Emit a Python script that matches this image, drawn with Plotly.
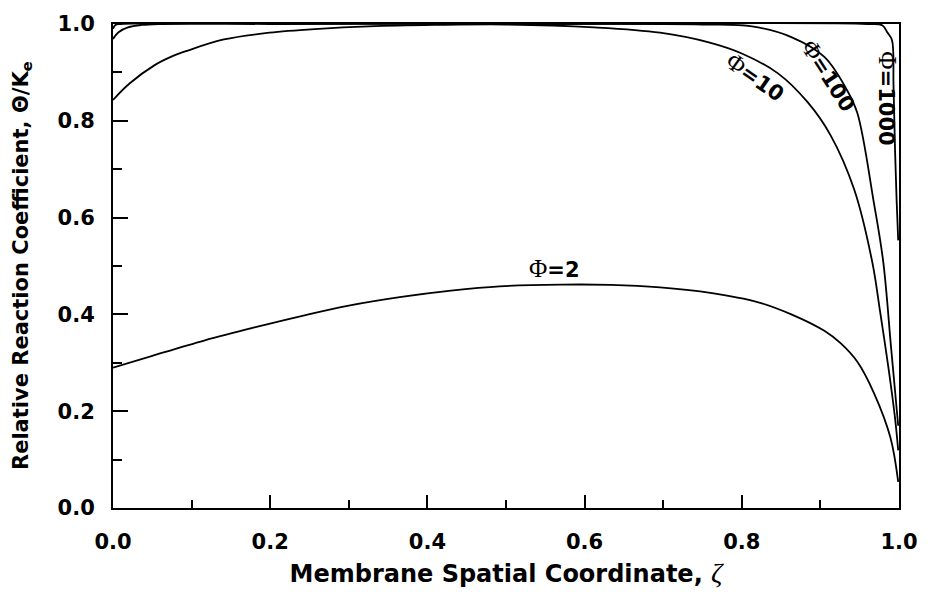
import plotly.graph_objects as go

# Relative reaction coefficient profiles across the membrane for several Thiele moduli
zeta_phi2 = [0.0, 0.050, 0.116, 0.180, 0.241, 0.300, 0.367, 0.430, 0.492, 0.570,
             0.633, 0.696, 0.758, 0.821, 0.863, 0.905, 0.926, 0.947, 0.968, 0.989,
             0.999]
theta_phi2 = [0.290, 0.3145, 0.346, 0.373, 0.397, 0.418, 0.436, 0.449, 0.458, 0.4615,
              0.461, 0.456, 0.445, 0.425, 0.400, 0.366, 0.340, 0.302, 0.238, 0.146,
              0.054]

zeta_phi10 = [0.0, 0.021, 0.053, 0.075, 0.095, 0.141, 0.199, 0.262, 0.325, 0.409,
              0.500, 0.612, 0.696, 0.758, 0.800, 0.846, 0.884, 0.913, 0.943, 0.966,
              0.976, 0.987, 0.995, 0.999]
theta_phi10 = [0.843, 0.877, 0.915, 0.933, 0.945, 0.968, 0.982, 0.990, 0.995, 0.998,
               0.999, 0.993, 0.982, 0.962, 0.939, 0.898, 0.838, 0.770, 0.658, 0.508,
               0.405, 0.285, 0.185, 0.119]

zeta_phi100 = [0.0, 0.007, 0.019, 0.036, 0.060, 0.200, 0.500, 0.750, 0.813, 0.863,
               0.905, 0.934, 0.947, 0.968, 0.980, 0.990, 0.999]
theta_phi100 = [0.969, 0.983, 0.993, 0.998, 1.000, 1.000, 1.000, 0.999, 0.995, 0.973,
                0.932, 0.863, 0.816, 0.631, 0.508, 0.330, 0.170]

zeta_phi1000 = [0.0, 0.003, 0.010, 0.500, 0.960, 0.979, 0.985, 0.991, 0.993, 0.995,
                0.997, 0.999]
theta_phi1000 = [0.990, 0.998, 1.000, 1.000, 1.000, 0.997, 0.983, 0.967, 0.874, 0.737,
                 0.635, 0.553]

curve_labels = ["Φ=2", "Φ=10", "Φ=100", "Φ=1000"]
label_x = [0.5615, 0.817, 0.911, 0.985]
label_y = [0.494, 0.891, 0.893, 0.846]
label_angle = [0, 35, 57, 90]

x_ticks = [0.0, 0.2, 0.4, 0.6, 0.8, 1.0]
y_ticks = [0.0, 0.2, 0.4, 0.6, 0.8, 1.0]

series = [
    (zeta_phi2, theta_phi2),
    (zeta_phi10, theta_phi10),
    (zeta_phi100, theta_phi100),
    (zeta_phi1000, theta_phi1000),
]

fig = go.Figure()
for (zx, th), name in zip(series, curve_labels):
    fig.add_trace(go.Scatter(
        x=zx, y=th, mode="lines", name=name,
        line=dict(color="black", width=1.8, shape="spline", smoothing=1.0),
        showlegend=False, hoverinfo="skip",
    ))

SANS = "DejaVu Sans, Verdana, sans-serif"
SERIF = "Liberation Serif, Times New Roman, serif"

for text, lx, ly, ang in zip(curve_labels, label_x, label_y, label_angle):
    phi, rest = text.split("=")
    fig.add_annotation(
        x=lx, y=ly, xref="x", yref="y",
        text=f"<span style='font-family:{SERIF};font-weight:normal;font-size:25px'>{phi}</span>={rest}",
        showarrow=False, textangle=ang,
        font=dict(family=SANS, size=21, color="black", weight="bold"),
        xanchor="center", yanchor="middle",
    )

# Vertical axis title, drawn as an annotation beside the plot
fig.add_annotation(
    x=0, y=0.5, xref="paper", yref="paper", xshift=-91,
    text="Relative Reaction Coefficient, Θ/K<sub>e</sub>",
    textangle=-90, showarrow=False, xanchor="center", yanchor="middle",
    font=dict(family=SANS, size=21, color="black", weight="bold"),
)

axis_common = dict(
    showline=True, linecolor="black", linewidth=2, mirror=True,
    ticks="inside", tickcolor="black", tickwidth=2,
    showgrid=False, zeroline=False,
    tickfont=dict(family=SANS, size=21, color="black", weight="bold"),
)

fig.update_xaxes(
    range=[0, 1.0], tickvals=x_ticks, ticktext=[f"{v:.1f}" for v in x_ticks],
    ticklen=13, ticklabelstandoff=14,
    minor=dict(ticks="inside", ticklen=8, tickwidth=2, tickcolor="black", dtick=0.1),
    title=dict(
        text=f"Membrane Spatial Coordinate, <span style='font-family:{SERIF};font-style:italic;font-weight:normal;font-size:28px'>ζ</span>",
        font=dict(family=SANS, size=24, color="black", weight="bold"), standoff=12,
    ),
    **axis_common,
)
fig.update_yaxes(
    range=[0, 1.0], tickvals=y_ticks, ticktext=[f"{v:.1f}" for v in y_ticks],
    ticklen=15, ticklabelstandoff=12,
    minor=dict(ticks="inside", ticklen=9, tickwidth=2, tickcolor="black", dtick=0.1),
    **axis_common,
)

fig.update_layout(
    width=930, height=598,
    margin=dict(l=113, r=20, t=20, b=90),
    paper_bgcolor="white", plot_bgcolor="white",
)

fig.write_html("out.html")
